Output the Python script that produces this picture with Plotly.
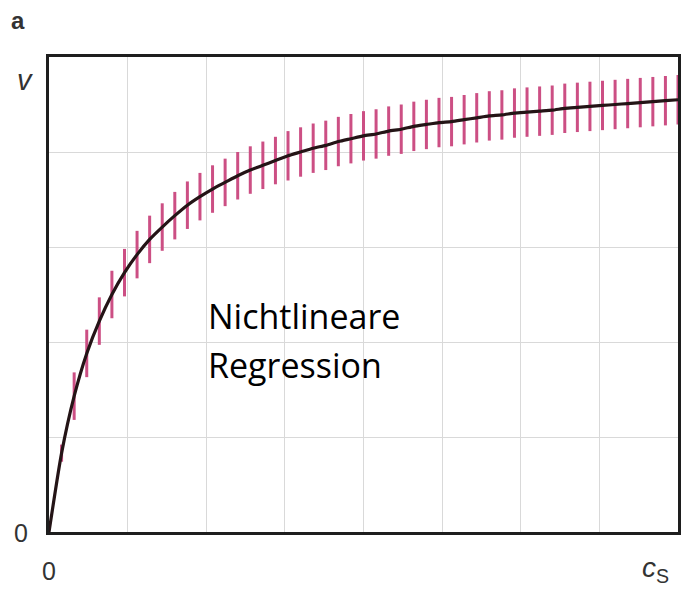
import plotly.graph_objects as go

# substrate concentration c_S (grid units) at each measured point
c_s = [0.16, 0.32, 0.48, 0.64, 0.80, 0.96, 1.12, 1.28, 1.44, 1.60,
       1.76, 1.92, 2.08, 2.24, 2.40, 2.56, 2.72, 2.88, 3.04, 3.20,
       3.36, 3.52, 3.68, 3.84, 4.00, 4.16, 4.32, 4.48, 4.64, 4.80,
       4.96, 5.12, 5.28, 5.44, 5.60, 5.76, 5.92, 6.08, 6.24, 6.40,
       6.56, 6.72, 6.88, 7.04, 7.20, 7.36, 7.52, 7.68, 7.84, 8.00]
# reaction rate v
v_vals = [0.83, 1.43, 1.88, 2.22, 2.50, 2.73, 2.92, 3.08, 3.21, 3.33,
          3.44, 3.53, 3.61, 3.68, 3.75, 3.81, 3.86, 3.91, 3.96, 4.00,
          4.04, 4.07, 4.11, 4.14, 4.17, 4.19, 4.22, 4.24, 4.27, 4.29,
          4.31, 4.32, 4.34, 4.36, 4.38, 4.39, 4.41, 4.42, 4.43, 4.44,
          4.46, 4.47, 4.48, 4.49, 4.50, 4.51, 4.52, 4.53, 4.54, 4.55]
# half-length of the error bars
v_err = [0.09, 0.25, 0.25, 0.25, 0.25, 0.25, 0.25, 0.25, 0.25, 0.25,
         0.25, 0.25, 0.25, 0.25, 0.25, 0.25, 0.25, 0.25, 0.26, 0.26,
         0.26, 0.26, 0.26, 0.26, 0.26, 0.26, 0.26, 0.26, 0.26, 0.26,
         0.26, 0.26, 0.26, 0.26, 0.26, 0.26, 0.26, 0.26, 0.26, 0.26,
         0.26, 0.26, 0.26, 0.26, 0.26, 0.26, 0.26, 0.26, 0.26, 0.26]
# fitted curve passes through origin
curve_x = [0.0] + c_s
curve_y = [0.0] + v_vals

label_text = ["Nichtlineare", "Regression"]

fig = go.Figure()
fig.add_trace(go.Scatter(
    x=c_s, y=v_vals, mode="markers",
    marker=dict(size=1, color="rgba(0,0,0,0)"),
    error_y=dict(type="data", array=v_err, visible=True,
                 thickness=3, width=0, color="#cc4f84"),
    hoverinfo="skip", showlegend=False,
))
fig.add_trace(go.Scatter(
    x=curve_x, y=curve_y, mode="lines",
    line=dict(color="#241416", width=3.2, shape="spline", smoothing=0.6),
    showlegend=False,
))

# page body has an 8 px margin; compensate so the plot box sits where the reference has it
OFF = 8
WIN_W, WIN_H = 692, 592
PL, PT, PR, PB = 49, 57, 681, 532   # plot box in window pixels
pw, ph = PR - PL, PB - PT

def px(x):
    return (x - PL) / pw

def py(y):
    return (PB - y) / ph

ann = []
txt_font = dict(family="Open Sans", size=34, color="#000")
ann.append(dict(text=label_text[0], x=px(207), y=py(316), xref="paper", yref="paper",
                xanchor="left", yanchor="middle", showarrow=False, font=txt_font))
ann.append(dict(text=label_text[1], x=px(207), y=py(365), xref="paper", yref="paper",
                xanchor="left", yanchor="middle", showarrow=False, font=txt_font))
lab_font = dict(family="Liberation Sans, Arial", size=25, color="#333")
ann.append(dict(text="<b>a</b>", x=px(18), y=py(21), xref="paper", yref="paper",
                xanchor="center", yanchor="middle", showarrow=False, borderpad=0,
                font=dict(family="Liberation Sans, Arial", size=24, color="#333")))
ann.append(dict(text="<i>v</i>", x=px(25), y=py(80), xref="paper", yref="paper",
                xanchor="center", yanchor="middle", showarrow=False,
                font=dict(family="Liberation Sans, Arial", size=29, color="#333")))
ann.append(dict(text="0", x=px(21), y=py(533), xref="paper", yref="paper",
                xanchor="center", yanchor="middle", showarrow=False, font=lab_font))
ann.append(dict(text="0", x=px(49), y=py(571), xref="paper", yref="paper",
                xanchor="center", yanchor="middle", showarrow=False, font=lab_font))
ann.append(dict(text="<i>c</i><sub>S</sub>", x=px(658), y=py(569), xref="paper", yref="paper",
                xanchor="center", yanchor="middle", showarrow=False,
                font=dict(family="Liberation Sans, Arial", size=28, color="#333")))

fig.update_layout(
    width=WIN_W - OFF, height=WIN_H - OFF,
    margin=dict(l=PL - OFF, r=WIN_W - PR, t=PT - OFF, b=WIN_H - PB, pad=0),
    paper_bgcolor="white", plot_bgcolor="white",
    annotations=ann,
    xaxis=dict(range=[0, 8], dtick=1, showticklabels=False, ticks="",
               showgrid=True, gridcolor="#d9d9d9", gridwidth=1, zeroline=False,
               showline=True, mirror=True, linecolor="#1e1e1e", linewidth=2.5),
    yaxis=dict(range=[0, 5], dtick=1, showticklabels=False, ticks="",
               showgrid=True, gridcolor="#d9d9d9", gridwidth=1, zeroline=False,
               showline=True, mirror=True, linecolor="#1e1e1e", linewidth=2.5),
)

fig.write_html("out.html")
